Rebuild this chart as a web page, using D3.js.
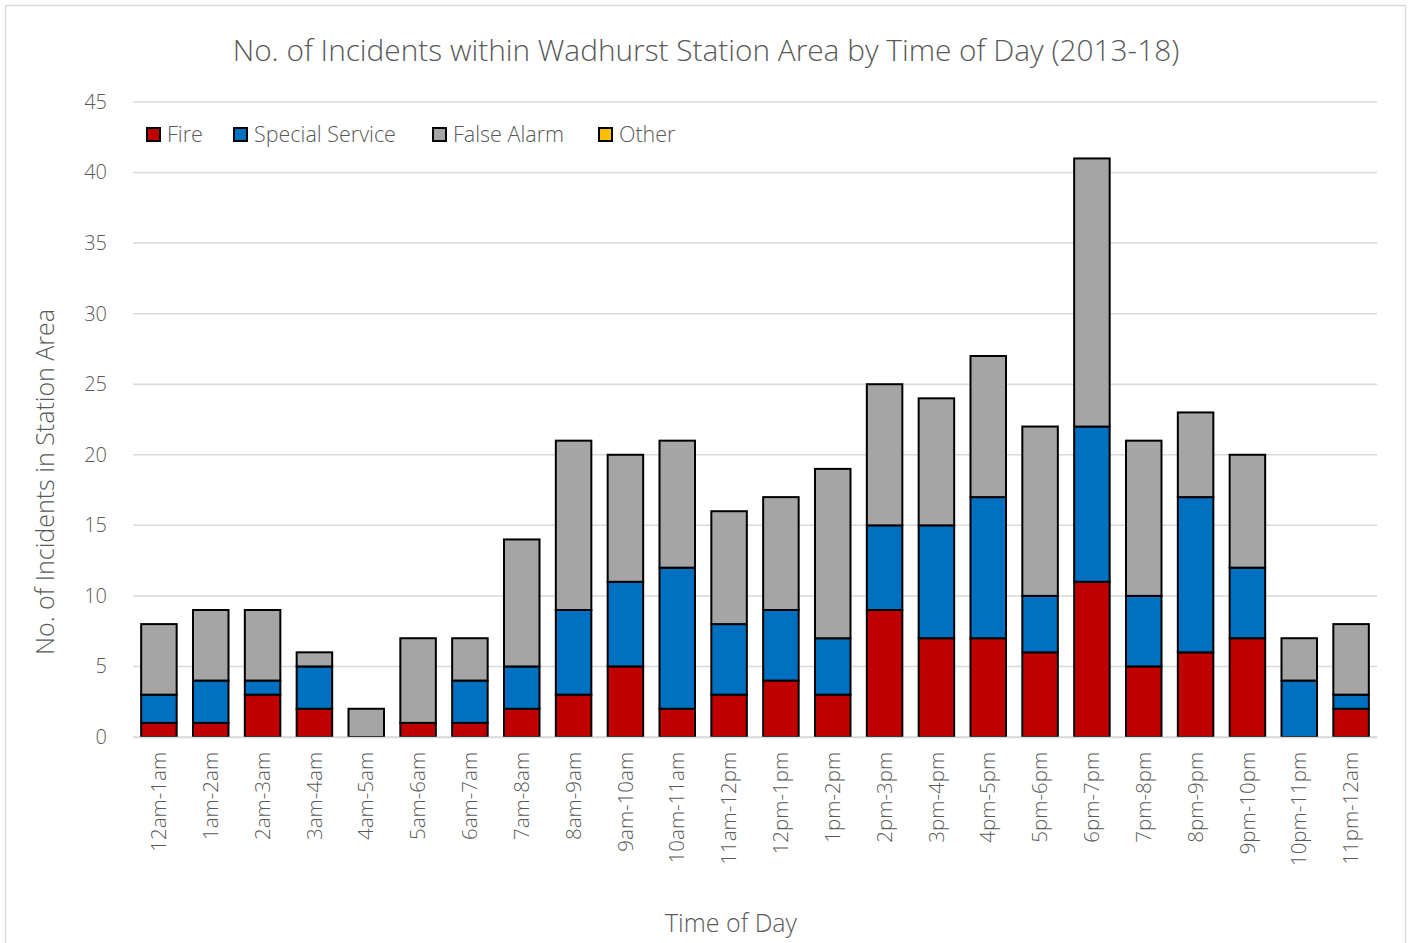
<!DOCTYPE html>
<html>
<head>
<meta charset="utf-8">
<script src="https://cdnjs.cloudflare.com/ajax/libs/d3/7.8.5/d3.min.js"></script>
<style>
  body { margin: 0; background: #fff; }
  svg text { font-family: "Open Sans", "Noto Sans", sans-serif; fill: #595959; }
</style>
</head>
<body>
<svg id="chart" width="1411" height="943"></svg>
<script>
'use strict';

// values
var hours = ["12am-1am", "1am-2am", "2am-3am", "3am-4am", "4am-5am", "5am-6am",
    "6am-7am", "7am-8am", "8am-9am", "9am-10am", "10am-11am", "11am-12pm",
    "12pm-1pm", "1pm-2pm", "2pm-3pm", "3pm-4pm", "4pm-5pm", "5pm-6pm",
    "6pm-7pm", "7pm-8pm", "8pm-9pm", "9pm-10pm", "10pm-11pm", "11pm-12am"];
var fire =           [1, 1, 3, 2, 0, 1, 1, 2, 3, 5, 2, 3, 4, 3, 9, 7, 7, 6, 11, 5, 6, 7, 0, 2];
var specialService = [2, 3, 1, 3, 0, 0, 3, 3, 6, 6, 10, 5, 5, 4, 6, 8, 10, 4, 11, 5, 11, 5, 4, 1];
var falseAlarm =     [5, 5, 5, 1, 2, 6, 3, 9, 12, 9, 9, 8, 8, 12, 10, 9, 10, 12, 19, 11, 6, 8, 3, 5];
var other =          [0, 0, 0, 0, 0, 0, 0, 0, 0, 0, 0, 0, 0, 0, 0, 0, 0, 0, 0, 0, 0, 0, 0, 0];
var seriesNames = ["Fire", "Special Service", "False Alarm", "Other"];
var seriesColors = ["#c00000", "#0070c0", "#a5a5a5", "#ffc000"];
var yTicks = [0, 5, 10, 15, 20, 25, 30, 35, 40, 45];

var rows = hours.map(function(h, i) {
    return { hour: h, "Fire": fire[i], "Special Service": specialService[i],
             "False Alarm": falseAlarm[i], "Other": other[i] };
});
var stacked = d3.stack().keys(seriesNames)(rows);

var svg = d3.select("#chart");
var margin = { left: 133, right: 34, top: 102, bottom: 206 };
var width = 1411, height = 943;

// outer chart border
svg.append("rect")
    .attr("x", 5.5).attr("y", 5.5)
    .attr("width", 1400).attr("height", 945)
    .attr("fill", "none").attr("stroke", "#d9d9d9").attr("stroke-width", 1.5);

var x = d3.scaleBand()
    .domain(hours)
    .range([margin.left, width - margin.right])
    .paddingInner(0.315)
    .paddingOuter(0.1575);

var y = d3.scaleLinear()
    .domain([0, 45])
    .range([height - margin.bottom, margin.top]);

// gridlines
svg.append("g").selectAll("line")
    .data(yTicks)
    .enter().append("line")
    .attr("x1", margin.left).attr("x2", width - margin.right)
    .attr("y1", function(d) { return y(d); })
    .attr("y2", function(d) { return y(d); })
    .attr("stroke", "#d9d9d9").attr("stroke-width", 1.5);

// y axis labels
var yAxis = d3.axisLeft(y).tickValues(yTicks).tickSize(0).tickPadding(26);
var yg = svg.append("g").attr("transform", "translate(" + margin.left + ",0)").call(yAxis);
yg.select(".domain").remove();
yg.selectAll("text").style("font-size", "20px").attr("fill", "#595959").style("font-weight", 300);

// bars
svg.append("g").selectAll("g")
    .data(stacked)
    .enter().append("g")
    .attr("fill", function(d, i) { return seriesColors[i]; })
    .selectAll("rect")
    .data(function(d) { return d.filter(function(s) { return s[1] - s[0] > 0; }); })
    .enter().append("rect")
    .attr("x", function(d) { return x(d.data.hour); })
    .attr("width", x.bandwidth())
    .attr("y", function(d) { return y(d[1]); })
    .attr("height", function(d) { return y(d[0]) - y(d[1]); })
    .attr("stroke", "#000").attr("stroke-width", 2);

// x axis
var xAxis = d3.axisBottom(x).tickSize(0).tickPadding(0);
var xg = svg.append("g").attr("transform", "translate(0," + y(0) + ")").call(xAxis);
xg.select(".domain").attr("stroke", "#d9d9d9").attr("stroke-width", 1.5);
xg.selectAll("text")
    .style("font-size", "20.5px").style("font-weight", 300).attr("fill", "#595959")
    .attr("text-anchor", "end")
    .attr("transform", "translate(0,15) rotate(-90)")
    .attr("x", 0).attr("y", 0).attr("dy", "0.35em");

// title
svg.append("text")
    .attr("x", 706).attr("y", 61)
    .attr("text-anchor", "middle")
    .style("font-size", "29.8px").style("font-weight", 300)
    .text("No. of Incidents within Wadhurst Station Area by Time of Day (2013-18)");

// axis titles
svg.append("text")
    .attr("x", 731).attr("y", 932)
    .attr("text-anchor", "middle")
    .style("font-size", "25px").style("font-weight", 300)
    .text("Time of Day");

svg.append("text")
    .attr("transform", "translate(54,482) rotate(-90)")
    .attr("text-anchor", "middle")
    .style("font-size", "25px").style("font-weight", 300)
    .text("No. of Incidents in Station Area");

// legend
var legendX = [147, 234, 433, 599];
var legend = svg.append("g").selectAll("g")
    .data(seriesNames)
    .enter().append("g")
    .attr("transform", function(d, i) { return "translate(" + legendX[i] + ",128)"; });
legend.append("rect")
    .attr("width", 13).attr("height", 13)
    .attr("fill", function(d, i) { return seriesColors[i]; })
    .attr("stroke", "#000").attr("stroke-width", 2);
legend.append("text")
    .attr("x", 20).attr("y", 14)
    .style("font-size", "21.5px").style("font-weight", 300)
    .text(function(d) { return d; });
</script>
</body>
</html>
